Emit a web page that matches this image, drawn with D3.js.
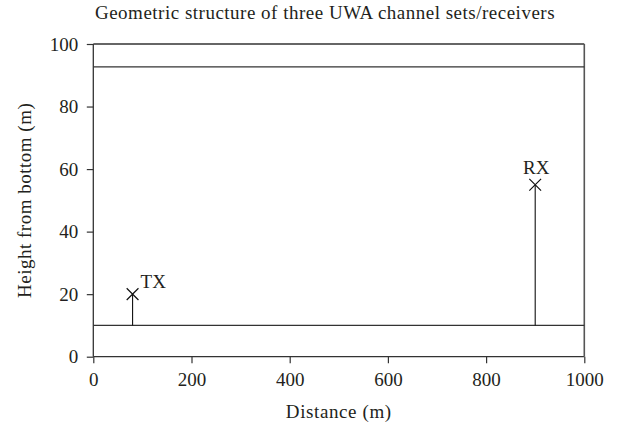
<!DOCTYPE html>
<html><head><meta charset="utf-8">
<script src="https://cdn.jsdelivr.net/npm/d3@7"></script>
<style>body{margin:0;background:#fff;} text{font-family:"Liberation Serif","DejaVu Serif",serif;fill:#231f20;}</style>
</head><body><svg id="c" width="617" height="425"></svg>
<script>
const xTicks = [0, 200, 400, 600, 800, 1000];
const yTicks = [0, 20, 40, 60, 80, 100];
const surfaceHeight = [92.7];
const bottomHeight = [10];
const nodeNames = ["TX", "RX"];
const nodeX = [80, 900];
const nodeY = [20, 55];

const FONT = '"Liberation Serif","DejaVu Serif",serif';
const svg = d3.select("#c");
const m = {l: 93.3, r: 584.3, t: 44, b: 356.7};
const x = d3.scaleLinear().domain([0, 1000]).range([m.l, m.r]);
const y = d3.scaleLinear().domain([0, 100]).range([m.b, m.t]);
const col = "#333";

const gx = svg.append("g").attr("transform", `translate(0,${m.b})`)
  .call(d3.axisBottom(x).tickValues(xTicks).tickSize(6.5).tickPadding(9).tickFormat(d3.format("d")));
const gy = svg.append("g").attr("transform", `translate(${m.l},0)`)
  .call(d3.axisLeft(y).tickValues(yTicks).tickSize(6.5).tickPadding(8.5).tickFormat(d3.format("d")));
[gx, gy].forEach(g => {
  g.attr("font-family", FONT).attr("font-size", 19);
  g.selectAll("path.domain").attr("stroke", col).attr("stroke-width", 1.3);
  g.selectAll("line").attr("stroke", col).attr("stroke-width", 1.2);
  g.selectAll("text").attr("font-size", 19).attr("fill", "#231f20").style("font-family", FONT);
});
gx.select("path.domain").attr("d", `M${m.l},0H${m.r}`);
gy.select("path.domain").attr("d", `M0,${m.b}V${m.t}`);

// top and right box lines
svg.append("line").attr("x1", x(0)).attr("x2", x(1000)).attr("y1", y(100)).attr("y2", y(100)).attr("stroke", col).attr("stroke-width", 1.3);
svg.append("line").attr("x1", x(1000)).attr("x2", x(1000)).attr("y1", y(100)).attr("y2", y(0)).attr("stroke", "#555").attr("stroke-width", 1.6);

// surface and bottom lines
surfaceHeight.concat(bottomHeight).forEach(h => {
  svg.append("line").attr("x1", x(0)).attr("x2", x(1000)).attr("y1", y(h)).attr("y2", y(h)).attr("stroke", col).attr("stroke-width", 1.2);
});

// nodes
nodeNames.forEach((n, i) => {
  const cx = x(nodeX[i]), cy = y(nodeY[i]);
  svg.append("line").attr("x1", cx).attr("x2", cx).attr("y1", cy).attr("y2", y(bottomHeight[0])).attr("stroke", "#111").attr("stroke-width", 1.1);
  svg.append("path").attr("d", d3.symbol(d3.symbolX, 92)()).attr("transform", `translate(${cx},${cy})`).attr("stroke", "#111").attr("stroke-width", 1.2).attr("fill", "none");
});
svg.append("text").attr("x", x(nodeX[0]) + 8).attr("y", y(nodeY[0]) - 6).attr("font-size", 19).text(nodeNames[0]);
svg.append("text").attr("x", x(nodeX[1]) + 1).attr("y", y(nodeY[1]) - 10.7).attr("text-anchor", "middle").attr("font-size", 19).text(nodeNames[1]);

svg.append("text").attr("x", 325).attr("y", 19).attr("text-anchor", "middle").attr("font-size", 19)
  .attr("letter-spacing", 0.5)
  .text("Geometric structure of three UWA channel sets/receivers");
svg.append("text").attr("x", (m.l + m.r) / 2).attr("y", 418).attr("text-anchor", "middle").attr("font-size", 19)
  .attr("letter-spacing", 0.6)
  .text("Distance (m)");
svg.append("text").attr("transform", `translate(31,${(m.t + m.b) / 2}) rotate(-90)`).attr("text-anchor", "middle").attr("font-size", 19)
  .attr("letter-spacing", 0.5)
  .text("Height from bottom (m)");
</script></body></html>
